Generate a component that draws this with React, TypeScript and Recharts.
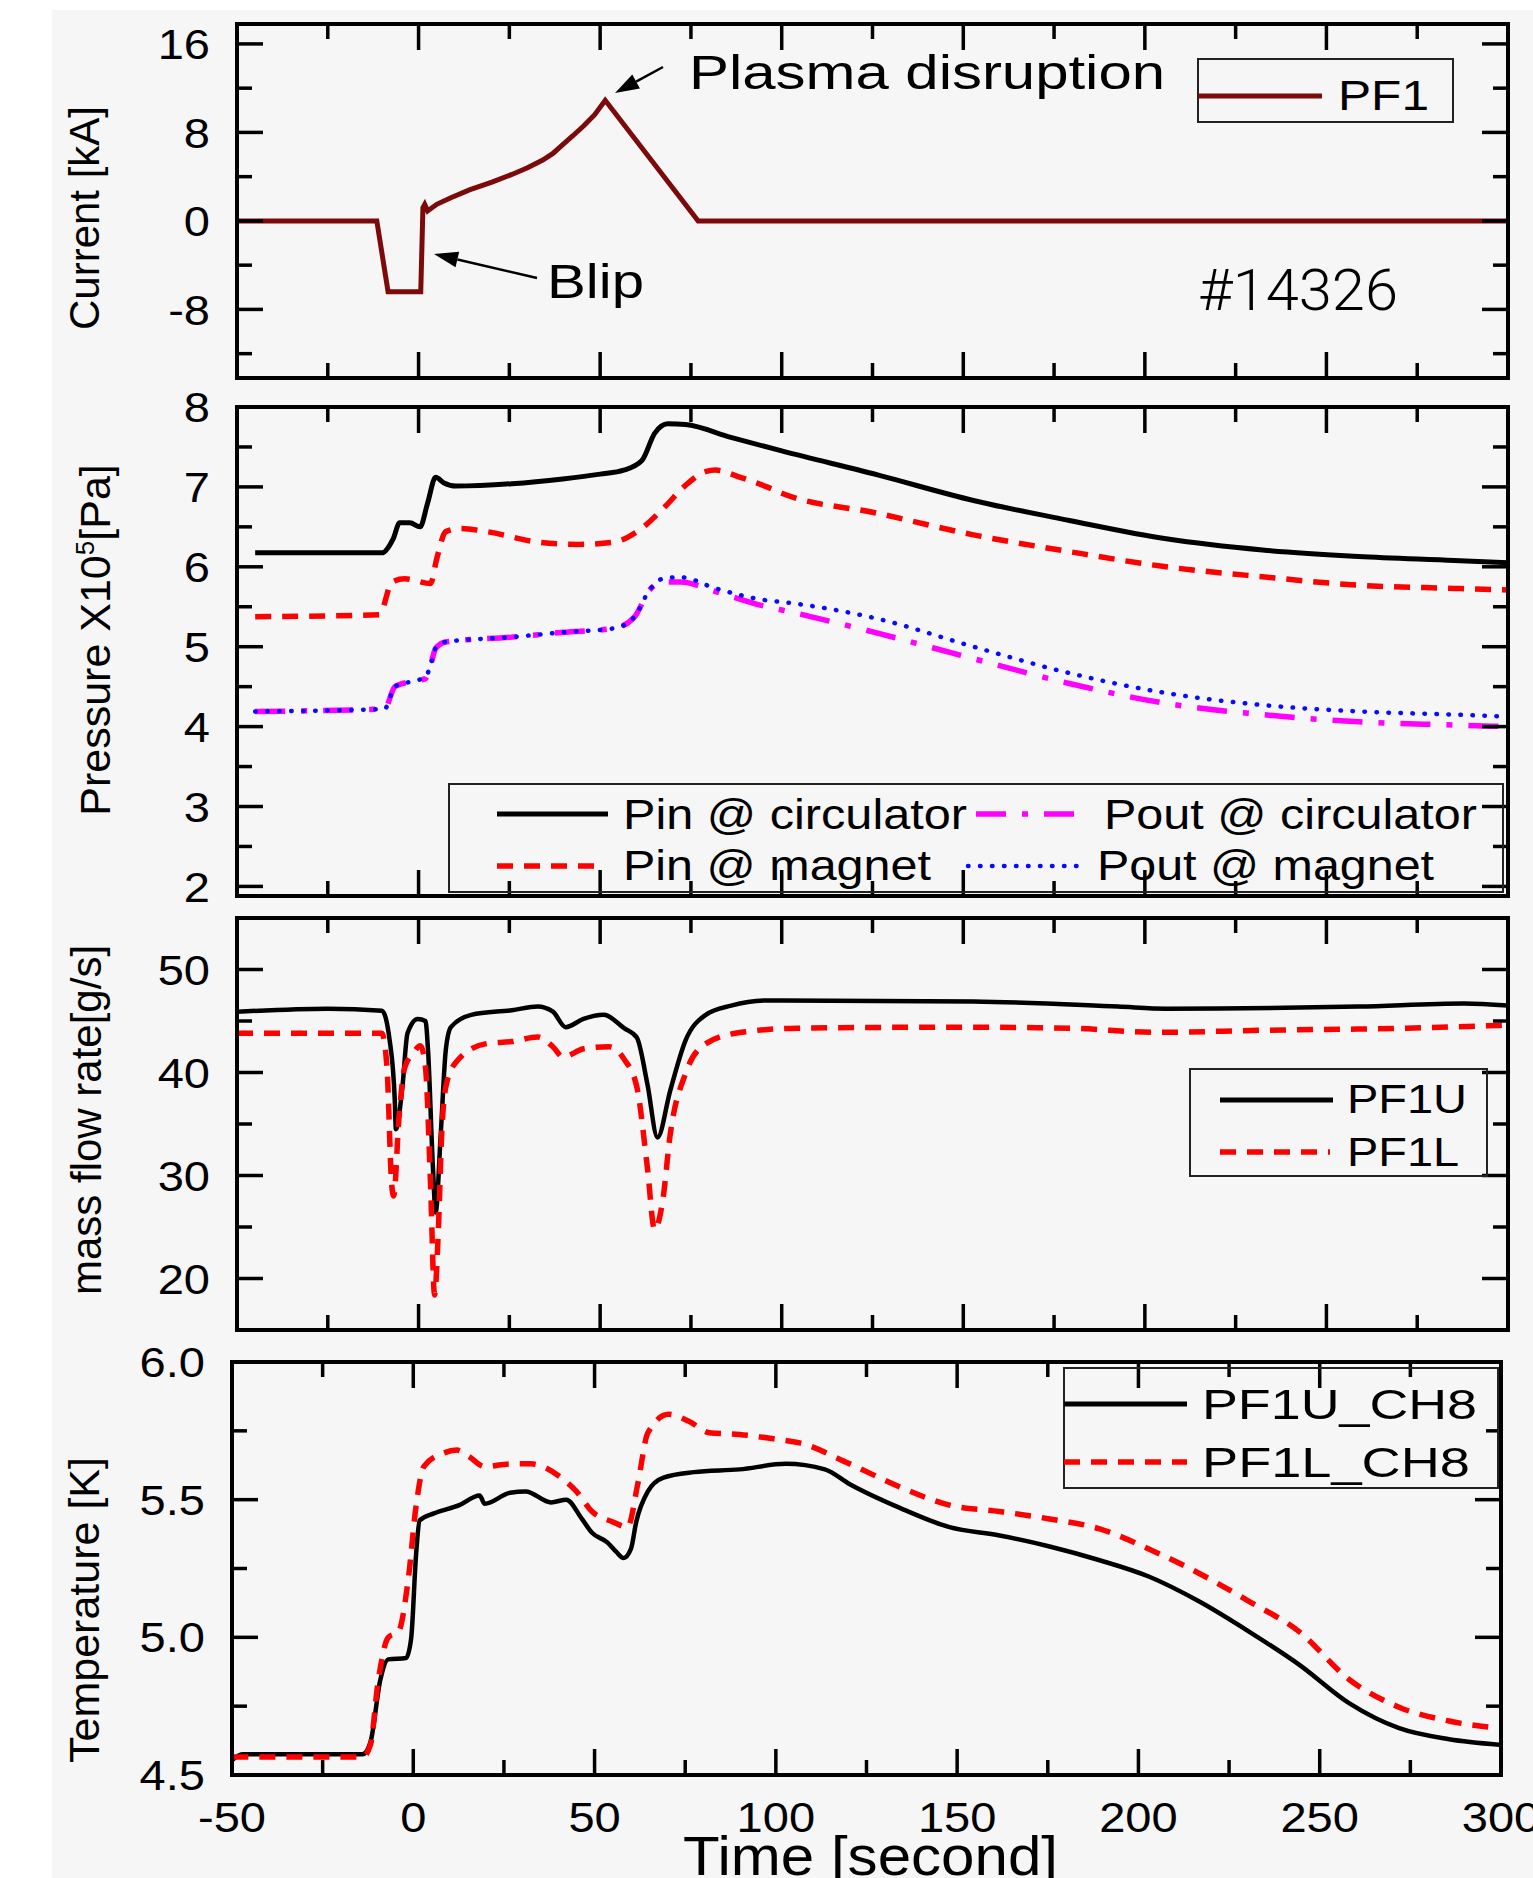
import React from 'react';
import { LineChart, Line, XAxis, YAxis } from 'recharts';

const PAGE_W = 1533;
const PAGE_H = 1878;
const FONT = '"Liberation Sans", Arial, Helvetica, sans-serif';

// shared time axis [s]
const timeTicks = [-50, -25, 0, 25, 50, 75, 100, 125, 150, 175, 200, 225, 250, 275, 300];
const timeLabels = [-50, 0, 50, 100, 150, 200, 250, 300];

// PF1 coil current [kA]
const pf1Time = [-50, -11.5, -8.4, 0.6, 1.2, 1.7, 2.5, 5, 8.9, 14, 20.2, 25.7, 30, 34.2, 37, 39.7, 42.5, 45.5, 48.5, 51.4, 77, 300];
const pf1Current = [0, 0, -6.4, -6.4, 1.2, 1.5, 0.9, 1.5, 2.1, 2.8, 3.5, 4.2, 4.8, 5.5, 6.1, 6.9, 7.7, 8.6, 9.6, 10.9, 0, 0];
const currentTicks = [-12, -8, -4, 0, 4, 8, 12, 16];
const currentLabels = [-8, 0, 8, 16];

// pressure [x10^5 Pa]
const pinCircTime = [-45, -10.1, -7, -5.2, -2.4, 0.4, 2.5, 4.7, 7, 10.3, 25.7, 39.7, 50, 56.5, 61.5, 65, 68.6, 73.5, 86, 100, 126.4, 152.8, 179.2, 205.9, 232.4, 258.8, 285.2, 300];
const pinCirc = [6.175, 6.175, 6.35, 6.55, 6.55, 6.5, 6.8, 7.12, 7.05, 7.01, 7.04, 7.1, 7.16, 7.21, 7.33, 7.67, 7.79, 7.78, 7.62, 7.45, 7.15, 6.83, 6.58, 6.35, 6.21, 6.13, 6.08, 6.05];
const pinMagTime = [-45, -10.8, -7.3, -3.8, 3.3, 5, 7.5, 11.6, 18.8, 32.8, 44, 53.8, 60.8, 67.8, 73.5, 79, 81.8, 88, 95.9, 100, 126.4, 152.8, 179.2, 205.9, 232.4, 258.8, 285.2, 300];
const pinMag = [5.375, 5.4, 5.81, 5.85, 5.79, 6.1, 6.44, 6.48, 6.44, 6.31, 6.28, 6.31, 6.46, 6.75, 7.02, 7.19, 7.21, 7.13, 7.0, 6.92, 6.67, 6.4, 6.19, 6.0, 5.875, 5.77, 5.73, 5.71];
const poutTime = [-45, -9.4, -6.5, -2.4, 1.9, 3.5, 4.7, 7.5, 25.7, 39.7, 53.8, 59.4, 63.6, 67.2, 72.1, 81.8, 95.9, 100, 126.4, 152.8, 179.2, 205.9, 232.4, 258.8, 285.2, 300];
const poutCirc = [4.19, 4.22, 4.5, 4.56, 4.6, 4.8, 4.98, 5.06, 5.12, 5.18, 5.23, 5.37, 5.71, 5.81, 5.81, 5.69, 5.5, 5.46, 5.17, 4.85, 4.54, 4.29, 4.15, 4.06, 4.02, 4.0];
const poutMag = [4.19, 4.22, 4.5, 4.56, 4.62, 4.8, 4.98, 5.06, 5.12, 5.18, 5.23, 5.37, 5.71, 5.85, 5.87, 5.73, 5.58, 5.56, 5.35, 5.0, 4.67, 4.42, 4.27, 4.19, 4.15, 4.125];
const pressureTicks = [2, 2.5, 3, 3.5, 4, 4.5, 5, 5.5, 6, 6.5, 7, 7.5, 8];
const pressureLabels = [2, 3, 4, 5, 6, 7, 8];

// mass flow rate [g/s]
const flowUTime = [-50, -25, -10.1, -7.95, -6.55, -6.25, -4.45, -3.05, -0.25, 1.9, 2.6, 3.95, 4.7, 6.1, 7.5, 8.9, 14.5, 25.7, 32.8, 37, 40.5, 45.4, 51, 56.6, 60.1, 63, 65.8, 69.3, 73.5, 79.1, 86.1, 95.9, 100, 152.8, 192.6, 205.9, 258.8, 287.9, 300];
const flowU = [45.9, 46.2, 46.0, 43.1, 37.3, 34.5, 38.6, 43.8, 45.2, 45.0, 42.2, 30.8, 26.4, 34.0, 42.2, 44.4, 45.6, 46.05, 46.4, 45.9, 44.4, 45.2, 45.6, 44.3, 43.4, 38.9, 33.7, 38.25, 43.1, 45.6, 46.5, 47.0, 47.0, 46.9, 46.4, 46.2, 46.4, 46.7, 46.5];
const flowLTime = [-50, -10.1, -8.7, -7.4, -6.85, -5.4, -3.8, -1.6, 0.5, 1.9, 3.3, 4.4, 5.4, 6.36, 7.5, 10.3, 18.7, 25.7, 32.8, 37, 39.8, 45.4, 52.4, 56.6, 60.1, 63, 65, 67.2, 69.3, 73.5, 79.1, 88.9, 104.4, 146.2, 179.2, 203.1, 232.4, 272, 300];
const flowL = [43.8, 43.8, 40.5, 29.1, 28.0, 35.6, 40.5, 41.8, 42.6, 40.5, 29.1, 18.4, 24.3, 34.0, 38.6, 41.0, 42.8, 43.0, 43.45, 42.5, 41.5, 42.3, 42.5, 41.3, 38.6, 30.8, 24.75, 27.5, 34.0, 39.9, 42.8, 43.9, 44.3, 44.4, 44.3, 43.9, 44.1, 44.3, 44.6];
const flowTicks = [20, 25, 30, 35, 40, 45, 50];
const flowLabels = [20, 30, 40, 50];

// temperature [K]
const tempUTime = [-49.9, -47, -14, -11.8, -9.1, -6.9, -2.0, -0.6, 0.8, 1.76, 5.7, 12.7, 18.3, 19.7, 26.7, 31, 38, 42.2, 46.5, 49.3, 53.5, 56, 58, 60, 61.5, 64.7, 69, 77.4, 90, 102.7, 113.5, 120.4, 134.2, 147.9, 161.7, 175.5, 189.3, 203, 216.8, 230.6, 244.4, 258.2, 271.9, 285.7, 299.5];
const tempU = [4.555, 4.575, 4.575, 4.62, 4.845, 4.92, 4.925, 4.995, 5.307, 5.425, 5.45, 5.48, 5.515, 5.485, 5.525, 5.53, 5.49, 5.5, 5.43, 5.38, 5.345, 5.31, 5.288, 5.32, 5.42, 5.53, 5.58, 5.6, 5.61, 5.63, 5.61, 5.556, 5.47, 5.4, 5.37, 5.33, 5.28, 5.22, 5.13, 5.02, 4.9, 4.76, 4.67, 4.63, 4.61];
const tempLTime = [-49.9, -14, -11.8, -9.8, -6.9, -4.1, -1.4, 0.8, 2.9, 8.5, 12, 15.5, 19.7, 26.7, 32.4, 40.8, 45, 49.3, 54.9, 59.1, 61.9, 64.7, 70.4, 76, 81.6, 90, 99.9, 106.6, 120.4, 134.2, 147.9, 161.7, 175.5, 189.3, 203, 216.8, 230.6, 244.4, 258.2, 271.9, 285.7, 299.5];
const tempL = [4.565, 4.565, 4.61, 4.83, 5.0, 5.02, 5.21, 5.48, 5.62, 5.67, 5.68, 5.655, 5.62, 5.63, 5.63, 5.58, 5.53, 5.457, 5.42, 5.4, 5.556, 5.743, 5.81, 5.785, 5.743, 5.737, 5.72, 5.706, 5.63, 5.546, 5.48, 5.457, 5.43, 5.394, 5.32, 5.232, 5.13, 5.02, 4.846, 4.746, 4.696, 4.67];
const tempTicks = [4.5, 4.75, 5, 5.25, 5.5, 5.75, 6];
const tempLabels = [4.5, 5, 5.5, 6];

const pts = (t: number[], v: number[]) => t.map((x, i) => ({ t: x, v: v[i] }));

const RED_DASH = '16 11';
const MAG_DASH = '30 16 6 16';
const BLUE_DOT = '0.5 11.5';

type Series = {
  name: string;
  data: { t: number; v: number }[];
  color: string;
  width: number;
  dash?: string;
  round?: boolean;
  curve: 'linear' | 'monotone';
};

type Rect = { left: number; right: number; top: number; bottom: number };

const frame = { stroke: '#000', strokeWidth: 4, strokeLinecap: 'square' as const };
const isMajor = (labels: number[], v: number) => labels.some((l) => Math.abs(l - v) < 1e-6);

const MAJOR = 26;
const MINOR = 15;
const TICK_FONT = 42;
const STRETCH = 1.12;

// rough Arial advance widths, used to widen labels like the original
const textWidth = (s: string, size: number) =>
  s.split('').reduce((w, c) => w + (c === '-' ? 0.333 : c === '.' ? 0.278 : 0.556), 0) * size * STRETCH;

function Panel(props: {
  top: number;
  height: number;
  plot: Rect;
  yDomain: [number, number];
  yTicks: number[];
  yLabels: number[];
  yFmt: (v: number) => string;
  series: Series[];
  showX?: boolean;
}) {
  const { top, height, plot, yDomain, yTicks, yLabels, yFmt, series, showX } = props;
  const margin = {
    top: plot.top - top - 1,
    bottom: top + height - plot.bottom - 1,
    left: plot.left - 1,
    right: PAGE_W - plot.right - 1,
  };

  const bottomTick = (p: any) => {
    const v = p.payload.value;
    const major = isMajor(timeLabels, v);
    const s = String(v);
    return (
      <g>
        <line x1={p.x} x2={p.x} y1={p.y} y2={p.y - (major ? MAJOR : MINOR)} stroke="#000" strokeWidth={3.5} />
        {showX && major && (
          <text
            x={p.x}
            y={p.y + 57}
            textAnchor="middle"
            fontSize={TICK_FONT}
            fontFamily={FONT}
            fill="#000"
            textLength={textWidth(s, TICK_FONT)}
            lengthAdjust="spacingAndGlyphs"
          >
            {s}
          </text>
        )}
      </g>
    );
  };
  const topTick = (p: any) => {
    const len = isMajor(timeLabels, p.payload.value) ? MAJOR : MINOR;
    return <line x1={p.x} x2={p.x} y1={p.y} y2={p.y + len} stroke="#000" strokeWidth={3.5} />;
  };
  const leftTick = (p: any) => {
    const v = p.payload.value;
    const major = isMajor(yLabels, v);
    const s = yFmt(v);
    return (
      <g>
        <line x1={p.x} x2={p.x + (major ? MAJOR : MINOR)} y1={p.y} y2={p.y} stroke="#000" strokeWidth={3.5} />
        {major && (
          <text
            x={p.x - 27}
            y={p.y}
            dy="0.36em"
            textAnchor="end"
            fontSize={TICK_FONT}
            fontFamily={FONT}
            fill="#000"
            textLength={textWidth(s, TICK_FONT)}
            lengthAdjust="spacingAndGlyphs"
          >
            {s}
          </text>
        )}
      </g>
    );
  };
  const rightTick = (p: any) => {
    const len = isMajor(yLabels, p.payload.value) ? MAJOR : MINOR;
    return <line x1={p.x} x2={p.x - len} y1={p.y} y2={p.y} stroke="#000" strokeWidth={3.5} />;
  };

  return (
    <div style={{ position: 'absolute', left: 0, top }}>
      <LineChart width={PAGE_W} height={height} margin={margin}>
        <XAxis
          xAxisId="b"
          type="number"
          dataKey="t"
          domain={[-50, 300]}
          allowDataOverflow
          ticks={timeTicks}
          interval={0}
          height={1}
          tickSize={0}
          tickMargin={0}
          tickLine={false}
          axisLine={frame}
          tick={bottomTick}
        />
        <XAxis
          xAxisId="t"
          orientation="top"
          type="number"
          dataKey="t"
          domain={[-50, 300]}
          allowDataOverflow
          ticks={timeTicks}
          interval={0}
          height={1}
          tickSize={0}
          tickMargin={0}
          tickLine={false}
          axisLine={frame}
          tick={topTick}
        />
        <YAxis
          yAxisId="l"
          type="number"
          domain={yDomain}
          allowDataOverflow
          ticks={yTicks}
          interval={0}
          width={1}
          tickSize={0}
          tickMargin={0}
          tickLine={false}
          axisLine={frame}
          tick={leftTick}
        />
        <YAxis
          yAxisId="r"
          orientation="right"
          type="number"
          domain={yDomain}
          allowDataOverflow
          ticks={yTicks}
          interval={0}
          width={1}
          tickSize={0}
          tickMargin={0}
          tickLine={false}
          axisLine={frame}
          tick={rightTick}
        />
        {series.map((s) => (
          <Line
            key={s.name}
            name={s.name}
            xAxisId="b"
            yAxisId="l"
            data={s.data}
            dataKey="v"
            type={s.curve}
            stroke={s.color}
            strokeWidth={s.width}
            strokeDasharray={s.dash}
            strokeLinecap={s.round ? 'round' : 'butt'}
            dot={false}
            activeDot={false}
            isAnimationActive={false}
          />
        ))}
      </LineChart>
    </div>
  );
}

function Arrow({ x1, y1, x2, y2 }: { x1: number; y1: number; x2: number; y2: number }) {
  const dx = x2 - x1;
  const dy = y2 - y1;
  const L = Math.hypot(dx, dy);
  const ux = dx / L;
  const uy = dy / L;
  const head = 24;
  const half = 8;
  const bx = x2 - ux * head;
  const by = y2 - uy * head;
  const pts = `${x2},${y2} ${bx - uy * half},${by + ux * half} ${bx + uy * half},${by - ux * half}`;
  return (
    <g>
      <line x1={x1} y1={y1} x2={bx} y2={by} stroke="#000" strokeWidth={2.5} />
      <polygon points={pts} fill="#000" />
    </g>
  );
}

const T = (p: { x: number; y: number; len: number; size: number; children: React.ReactNode; family?: string; weight?: number }) => (
  <text
    x={p.x}
    y={p.y}
    fontSize={p.size}
    fontFamily={p.family || FONT}
    fontWeight={p.weight || 400}
    textLength={p.len}
    lengthAdjust="spacingAndGlyphs"
    fill="#000"
  >
    {p.children}
  </text>
);

const YTitle = ({ x, y, size, children }: { x: number; y: number; size: number; children: React.ReactNode }) => (
  <text
    transform={`translate(${x},${y}) rotate(-90)`}
    textAnchor="middle"
    dy="0.36em"
    fontSize={size}
    fontFamily={FONT}
    fill="#000"
  >
    {children}
  </text>
);

function Overlay() {
  return (
    <svg width={PAGE_W} height={PAGE_H} style={{ position: 'absolute', left: 0, top: 0, pointerEvents: 'none' }}>
      {/* annotations */}
      <T x={689} y={89} len={476} size={48}>Plasma disruption</T>
      <Arrow x1={663} y1={67} x2={615} y2={93} />
      <T x={547} y={298} len={97} size={49}>Blip</T>
      <Arrow x1={537} y1={278} x2={434} y2={254} />
      <T x={1198} y={310} len={200} size={58} family='Roboto, "Liberation Sans", sans-serif' weight={300}>#14326</T>

      {/* PF1 legend */}
      <rect x={1198} y={59} width={255} height={63} fill="none" stroke="#222" strokeWidth={2} />
      <line x1={1198} x2={1322} y1={96} y2={96} stroke="#7d0a0a" strokeWidth={5} />
      <T x={1338} y={110} len={91} size={42}>PF1</T>

      {/* pressure legend */}
      <rect x={449} y={784} width={1054} height={108} fill="none" stroke="#222" strokeWidth={2} />
      <line x1={497} x2={608} y1={814} y2={814} stroke="#000" strokeWidth={5} />
      <T x={623} y={829} len={344} size={42}>Pin @ circulator</T>
      <line x1={976} x2={1090} y1={814} y2={814} stroke="#ff00ff" strokeWidth={5.5} strokeDasharray={MAG_DASH} />
      <T x={1104} y={829} len={373} size={42}>Pout @ circulator</T>
      <line x1={497} x2={596} y1={866} y2={866} stroke="#ff0000" strokeWidth={5.5} strokeDasharray={RED_DASH} />
      <T x={623} y={880} len={308} size={42}>Pin @ magnet</T>
      <line x1={968} x2={1084} y1={866} y2={866} stroke="#0a0aff" strokeWidth={4.5} strokeDasharray={BLUE_DOT} strokeLinecap="round" />
      <T x={1097} y={880} len={337} size={42}>Pout @ magnet</T>

      {/* flow legend */}
      <rect x={1190} y={1069} width={297} height={107} fill="none" stroke="#222" strokeWidth={2} />
      <line x1={1220} x2={1333} y1={1100} y2={1100} stroke="#000" strokeWidth={5} />
      <T x={1347} y={1113} len={120} size={40}>PF1U</T>
      <line x1={1220} x2={1330} y1={1152} y2={1152} stroke="#ff0000" strokeWidth={5.5} strokeDasharray={RED_DASH} />
      <T x={1347} y={1166} len={112} size={40}>PF1L</T>

      {/* temperature legend */}
      <rect x={1064} y={1368} width={434} height={120} fill="none" stroke="#222" strokeWidth={2} />
      <line x1={1064} x2={1187} y1={1404} y2={1404} stroke="#000" strokeWidth={5} />
      <T x={1202} y={1419} len={275} size={43}>PF1U_CH8</T>
      <line x1={1064} x2={1187} y1={1462} y2={1462} stroke="#ff0000" strokeWidth={5.5} strokeDasharray={RED_DASH} />
      <T x={1202} y={1477} len={268} size={43}>PF1L_CH8</T>

      {/* axis titles */}
      <YTitle x={84} y={218} size={42}>Current [kA]</YTitle>
      <YTitle x={95} y={640} size={43}>
        Pressure X10<tspan fontSize={26} dy={-16}>5</tspan>
        <tspan dy={16}>[Pa]</tspan>
      </YTitle>
      <YTitle x={86} y={1120} size={42}>mass flow rate[g/s]</YTitle>
      <YTitle x={84} y={1610} size={43}>Temperature [K]</YTitle>
      <T x={683} y={1875} len={375} size={55}>Time [second]</T>
    </svg>
  );
}

export default function App() {
  const p13 = { left: 237, right: 1508 };
  return (
    <div style={{ position: 'absolute', left: 0, top: 0, width: PAGE_W, height: PAGE_H, background: '#fff', overflow: 'hidden' }}>
      <div style={{ position: 'absolute', left: 52, top: 10, right: 0, bottom: 0, background: '#f6f6f6' }} />
      <Panel
        top={0}
        height={400}
        plot={{ ...p13, top: 24, bottom: 378 }}
        yDomain={[-14.2, 17.8]}
        yTicks={currentTicks}
        yLabels={currentLabels}
        yFmt={(v) => String(v)}
        series={[{ name: 'PF1', data: pts(pf1Time, pf1Current), color: '#7d0a0a', width: 5, curve: 'linear' }]}
      />
      <Panel
        top={370}
        height={545}
        plot={{ ...p13, top: 407, bottom: 896 }}
        yDomain={[1.88, 8]}
        yTicks={pressureTicks}
        yLabels={pressureLabels}
        yFmt={(v) => String(v)}
        series={[
          { name: 'Pin @ circulator', data: pts(pinCircTime, pinCirc), color: '#000', width: 5, curve: 'monotone' },
          { name: 'Pout @ circulator', data: pts(poutTime, poutCirc), color: '#ff00ff', width: 5.5, dash: MAG_DASH, curve: 'monotone' },
          { name: 'Pin @ magnet', data: pts(pinMagTime, pinMag), color: '#ff0000', width: 5.5, dash: RED_DASH, curve: 'monotone' },
          { name: 'Pout @ magnet', data: pts(poutTime, poutMag), color: '#0a0aff', width: 4.5, dash: BLUE_DOT, round: true, curve: 'monotone' },
        ]}
      />
      <Panel
        top={900}
        height={450}
        plot={{ ...p13, top: 918, bottom: 1330 }}
        yDomain={[15, 55]}
        yTicks={flowTicks}
        yLabels={flowLabels}
        yFmt={(v) => String(v)}
        series={[
          { name: 'PF1U', data: pts(flowUTime, flowU), color: '#000', width: 4.5, curve: 'monotone' },
          { name: 'PF1L', data: pts(flowLTime, flowL), color: '#ff0000', width: 5.5, dash: RED_DASH, curve: 'monotone' },
        ]}
      />
      <Panel
        top={1340}
        height={538}
        plot={{ left: 232, right: 1501, top: 1362, bottom: 1775 }}
        yDomain={[4.5, 6]}
        yTicks={tempTicks}
        yLabels={tempLabels}
        yFmt={(v) => v.toFixed(1)}
        showX
        series={[
          { name: 'PF1U_CH8', data: pts(tempUTime, tempU), color: '#000', width: 4.5, curve: 'monotone' },
          { name: 'PF1L_CH8', data: pts(tempLTime, tempL), color: '#ff0000', width: 5.5, dash: RED_DASH, curve: 'monotone' },
        ]}
      />
      <Overlay />
    </div>
  );
}
